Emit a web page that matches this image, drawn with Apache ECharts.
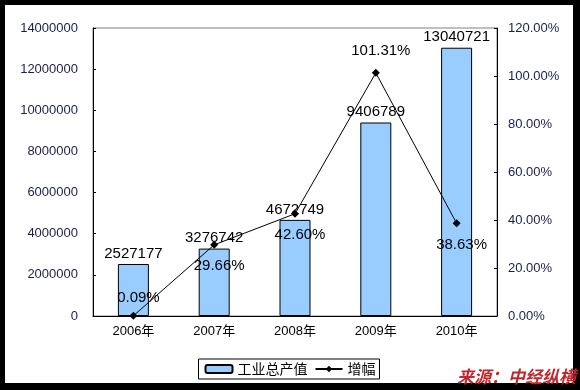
<!DOCTYPE html>
<html><head><meta charset="utf-8">
<script src="https://cdn.jsdelivr.net/npm/echarts@6/dist/echarts.min.js"></script>
<style>html,body{margin:0;padding:0;background:#000}#c{width:580px;height:390px}</style>
</head><body><div id="c"></div>
<script>
var categories = ['2006年','2007年','2008年','2009年','2010年'];
var outputValues = [2527177, 3276742, 4672749, 9406789, 13040721];
var growthValues = [0.09, 29.66, 42.60, 101.31, 38.63];
var growthLabelPos = ['top','bottom','bottom','top','bottom'];
var growthLabelDist = [6,10,10,10,10];
var leftTicks = {min:0, max:14000000, interval:2000000};
var rightTicks = {min:0, max:120, interval:20};

var FONT = 'Arial, "Liberation Sans", "Noto Sans CJK SC", sans-serif';
var chart = echarts.init(document.getElementById('c'), null, {renderer:'canvas'});
chart.setOption({
  backgroundColor:'#000',
  animation:false,
  textStyle:{fontFamily:FONT},
  graphic:[
    {type:'rect', z:-10, shape:{x:5,y:5,width:568,height:378}, style:{fill:'#fff'}},
    {type:'text', z:100, left:457, top:368, style:{text:'来源：中经纵横', fill:'#c0282d',
      font:'italic bold 17px "Noto Sans CJK SC", sans-serif'}}
  ],
  grid:{left:93, top:28, right:83, bottom:74, show:true, borderColor:'#808080', borderWidth:1},
  legend:{
    bottom:11, left:'center',
    orient:'horizontal',
    borderColor:'#000', borderWidth:1,
    padding:[3,4,3,6],
    itemWidth:27, itemHeight:8, itemGap:7,
    textStyle:{fontSize:14, color:'#000', fontFamily:'"Noto Sans CJK SC", sans-serif'},
    data:['工业总产值','增幅']
  },
  xAxis:{
    type:'category', data:categories, boundaryGap:true,
    axisLine:{lineStyle:{color:'#000', width:1}},
    axisTick:{inside:true, length:3, interval:0, lineStyle:{color:'#000'}},
    axisLabel:{fontSize:13, color:'#000', margin:9, fontFamily:FONT}
  },
  yAxis:[
    {type:'value', min:leftTicks.min, max:leftTicks.max, interval:leftTicks.interval,
     axisLine:{show:true, lineStyle:{color:'#000'}},
     axisTick:{show:true, inside:true, length:3, lineStyle:{color:'#000'}},
     splitLine:{show:false},
     axisLabel:{fontSize:13, color:'#1c1c50', margin:15, fontFamily:FONT,
       formatter:function(v){return String(v);}}},
    {type:'value', min:rightTicks.min, max:rightTicks.max, interval:rightTicks.interval,
     position:'right',
     axisLine:{show:true, lineStyle:{color:'#000'}},
     axisTick:{show:true, inside:true, length:3, lineStyle:{color:'#000'}},
     splitLine:{show:false},
     axisLabel:{fontSize:13, color:'#1c1c50', margin:11, fontFamily:FONT,
       formatter:function(v){return v.toFixed(2)+'%';}}}
  ],
  series:[
    {name:'工业总产值', type:'bar', yAxisIndex:0, barWidth:31,
     itemStyle:{color:'#99ccff', borderColor:'#000', borderWidth:1},
     label:{show:true, position:'top', distance:3, fontSize:15, color:'#000', fontFamily:FONT},
     data:outputValues},
    {name:'增幅', type:'line', yAxisIndex:1,
     symbol:'diamond', symbolSize:8,
     lineStyle:{color:'#000', width:1},
     itemStyle:{color:'#000'},
     data:growthValues.map(function(v,i){
       return {value:v, label:{show:true, position:growthLabelPos[i], distance:growthLabelDist[i], offset:[5,0],
         fontSize:15, color:'#000', fontFamily:FONT,
         formatter:function(p){return p.value.toFixed(2)+'%';}}};
     })}
  ]
});
</script></body></html>
